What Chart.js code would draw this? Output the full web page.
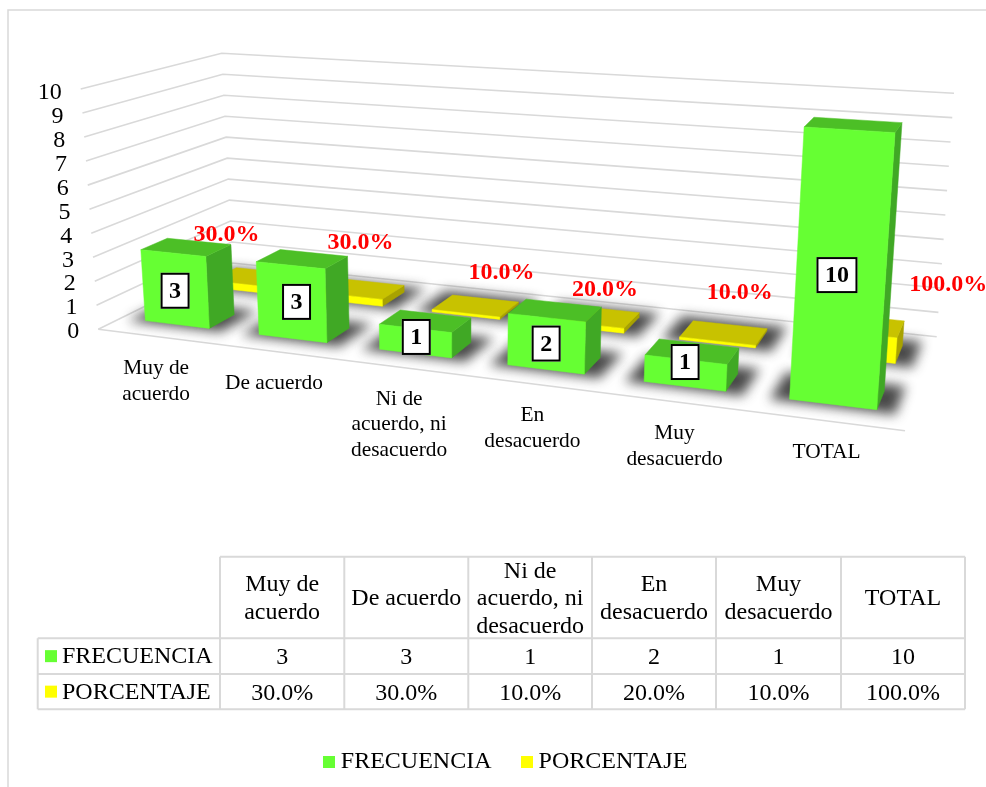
<!DOCTYPE html>
<html><head><meta charset="utf-8">
<style>html,body{margin:0;padding:0;background:#fff}canvas{display:block}</style>
<script src="https://cdn.jsdelivr.net/npm/chart.js@4/dist/chart.umd.js"></script>
</head><body>
<canvas id="c" width="986" height="787"></canvas>
<script>
// ---- data ----
const categories = [['Muy de','acuerdo'],['De acuerdo'],['Ni de','acuerdo, ni','desacuerdo'],['En','desacuerdo'],['Muy','desacuerdo'],['TOTAL']];
const frecuencia = [3,3,1,2,1,10];
const porcentaje = [0.3,0.3,0.1,0.2,0.1,1];
const seriesNames = ['FRECUENCIA','PORCENTAJE'];
const yTicks = {min:0,max:10,step:1};

// ---- layout / style ----
const FONT = '"Liberation Serif","Times New Roman",serif';
const GRID = '#d9d9d9';
const FLOOR_CORNERS = [[98.3,329.3],[905,430.7],[936.7,336.7],[232.7,263]]; // front-left, front-right, back-right, back-left
const TOP_CORNERS   = [[80.7,89],[925,144],[954,93.3],[221.7,53.3]];
const ROW_DEPTH = [[0.155,0.34],[0.64,0.85]];
const FACE = [{front:'#66ff33',top:'#4cbf26',side:'#40a825'},{front:'#ffff00',top:'#c8c200',side:'#a8a200'}];
const FREC_NUDGE = [[0,2],[5,0],[1,-4],[0,0],[0,-11],[-4,8]];
const PCT_NUDGE = [[-27,-42],[-1,-46],[26,-33],[9,-27],[16,-40],[88,-40]];
const TABLE_X = [37.7,220,344.3,468.3,592,716,841,965];
const TABLE_Y = [556.7,638.3,674,709.3];

function homography(p){
  const [a,b,c,d]=p;
  const dx1=b[0]-c[0],dx2=d[0]-c[0],sx=a[0]-b[0]+c[0]-d[0];
  const dy1=b[1]-c[1],dy2=d[1]-c[1],sy=a[1]-b[1]+c[1]-d[1];
  const den=dx1*dy2-dx2*dy1;
  const g=(sx*dy2-dx2*sy)/den,h=(dx1*sy-sx*dy1)/den;
  const A=b[0]-a[0]+g*b[0],B=d[0]-a[0]+h*d[0],D=b[1]-a[1]+g*b[1],E=d[1]-a[1]+h*d[1];
  return (s,t)=>{const w=g*s+h*t+1;return [(A*s+B*t+a[0])/w,(D*s+E*t+a[1])/w];};
}
const floorH=homography(FLOOR_CORNERS),topH=homography(TOP_CORNERS);
const N=categories.length;
function P(u,d,f){
  const a=floorH(u/N,d),b=topH(u/N,d);
  return [a[0]+(b[0]-a[0])*f,a[1]+(b[1]-a[1])*f];
}
function quad(ctx,pts,fill){
  ctx.beginPath();ctx.moveTo(pts[0][0],pts[0][1]);
  for(let i=1;i<pts.length;i++)ctx.lineTo(pts[i][0],pts[i][1]);
  ctx.closePath();
  if(fill){ctx.fillStyle=fill;ctx.fill();ctx.strokeStyle=fill;ctx.lineWidth=0.5;ctx.stroke();}
}
function geom(chart,el){
  const ca=chart.chartArea,y=chart.scales.y;
  const u=(el.x-ca.left)/ca.width*N,w=el.width/ca.width*N;
  const f=(el.base-el.y)/(y.bottom-y.top);
  return {u0:u-w/2,u1:u+w/2,uc:u,f};
}

class Bar3D extends Chart.BarController{
  draw(){
    const chart=this.chart,ctx=chart.ctx,meta=this._cachedMeta;
    const c=FACE[meta.index],[d0,d1]=ROW_DEPTH[meta.index];
    meta.data.forEach(el=>{
      const g=geom(chart,el);
      quad(ctx,[P(g.u1,d0,0),P(g.u1,d1,0),P(g.u1,d1,g.f),P(g.u1,d0,g.f)],c.side);
      quad(ctx,[P(g.u0,d0,g.f),P(g.u1,d0,g.f),P(g.u1,d1,g.f),P(g.u0,d1,g.f)],c.top);
      quad(ctx,[P(g.u0,d0,0),P(g.u1,d0,0),P(g.u1,d0,g.f),P(g.u0,d0,g.f)],c.front);
    });
  }
}
Bar3D.id='bar3d';
Bar3D.defaults=Chart.BarController.defaults;
Bar3D.overrides=Chart.BarController.overrides;
Chart.register(Bar3D);

function swatch(color){
  const k=document.createElement('canvas');k.width=12;k.height=12;
  const x=k.getContext('2d');x.fillStyle=color;x.fillRect(0,0,12,12);return k;
}

const scene={
  id:'scene',
  afterLayout(chart){
    const ys=chart.scales.y,xs=chart.scales.x;
    ys.getLabelItems().forEach(it=>{
      const f=(ys.bottom-it.options.translation[1])/(ys.bottom-ys.top);
      it.options.translation[0]=P(0,0,f)[0]-19;
    });
    ys.left=0;ys.right=100;
    const lh=xs.options.ticks.font.size*1.2;
    xs.getLabelItems().forEach((it,i)=>{
      const p=floorH((i+.5)/N,0);
      it.options.translation[0]=p[0]+1.5;
      it.options.translation[1]=p[1]+32-lh/2;
    });
    xs.top=330;xs.bottom=550;
    const lg=chart.legend;
    lg.left=0;lg.right=1016;lg.top=715;lg.bottom=787;
  },
  beforeDatasetsDraw(chart){
    const ctx=chart.ctx;
    ctx.save();
    // frame
    ctx.strokeStyle=GRID;ctx.lineWidth=1.5;
    ctx.beginPath();ctx.moveTo(8,787);ctx.lineTo(8,10);ctx.lineTo(986,10);ctx.stroke();
    // walls and floor
    ctx.lineWidth=1.6;ctx.lineCap='butt';
    for(let v=yTicks.min;v<=yTicks.max;v+=yTicks.step){
      const f=(v-yTicks.min)/(yTicks.max-yTicks.min);
      const a=P(0,0,f),b=P(0,1,f),c=P(N,1,f);
      ctx.beginPath();ctx.moveTo(a[0],a[1]);ctx.lineTo(b[0],b[1]);ctx.lineTo(c[0],c[1]);ctx.stroke();
    }
    const a=P(0,0,0),b=P(N,0,0);
    ctx.beginPath();ctx.moveTo(a[0],a[1]);ctx.lineTo(b[0],b[1]);ctx.stroke();
    // soft shadows on the floor
    ctx.filter='blur(6px)';
    [1,0].forEach(k=>{
      const [d0,d1]=ROW_DEPTH[k];
      chart.getDatasetMeta(k).data.forEach(el=>{
        const g=geom(chart,el);
        quad(ctx,[P(g.u0-.12,d0-.02,0),P(g.u1+.12,d0-.02,0),P(g.u1+.12,d1+.07,0),P(g.u0-.12,d1+.07,0)],'#4a4a4a');
      });
    });
    ctx.filter='none';
    ctx.restore();
  },
  afterDatasetsDraw(chart){
    const ctx=chart.ctx;
    ctx.save();
    ctx.textAlign='center';ctx.textBaseline='middle';
    // percentage labels
    ctx.font='bold 24px '+FONT;ctx.fillStyle='#ff0000';
    const [pd0,pd1]=ROW_DEPTH[1];
    chart.getDatasetMeta(1).data.forEach((el,i)=>{
      const g=geom(chart,el),p=P(g.uc,(pd0+pd1)/2,g.f);
      ctx.fillText((porcentaje[i]*100).toFixed(1)+'%',p[0]+PCT_NUDGE[i][0],p[1]+PCT_NUDGE[i][1]);
    });
    // frequency labels
    const [fd0]=ROW_DEPTH[0];
    chart.getDatasetMeta(0).data.forEach((el,i)=>{
      const g=geom(chart,el);
      const a=P(g.uc,fd0,0),b=P(g.uc,fd0,g.f);
      const cx=(a[0]+b[0])/2+FREC_NUDGE[i][0],cy=(a[1]+b[1])/2+FREC_NUDGE[i][1];
      const t=String(frecuencia[i]),w=ctx.measureText(t).width+17,h=36;
      ctx.fillStyle='#fff';ctx.fillRect(cx-w/2,cy-h/2,w,h);
      ctx.strokeStyle='#000';ctx.lineWidth=2;ctx.strokeRect(cx-w/2+1,cy-h/2+1,w-2,h-2);
      ctx.fillStyle='#000';ctx.fillText(t,cx,cy+1);
    });
    ctx.restore();
  },
  afterDraw(chart){
    const ctx=chart.ctx,X=TABLE_X,Y=TABLE_Y;
    ctx.save();
    ctx.strokeStyle=GRID;ctx.lineWidth=2;
    ctx.beginPath();
    ctx.moveTo(X[1],Y[0]);ctx.lineTo(X[7],Y[0]);
    for(let i=1;i<Y.length;i++){ctx.moveTo(X[0],Y[i]);ctx.lineTo(X[7],Y[i]);}
    ctx.moveTo(X[0],Y[1]);ctx.lineTo(X[0],Y[3]);
    for(let i=1;i<X.length;i++){ctx.moveTo(X[i],Y[0]);ctx.lineTo(X[i],Y[3]);}
    ctx.stroke();
    ctx.font='24px '+FONT;ctx.fillStyle='#000';ctx.textBaseline='middle';ctx.textAlign='center';
    categories.forEach((lines,i)=>{
      const cx=(X[i+1]+X[i+2])/2,cy=(Y[0]+Y[1])/2+1.5;
      lines.forEach((l,j)=>ctx.fillText(l,cx,cy+(j-(lines.length-1)/2)*27.6));
      ctx.fillText(String(frecuencia[i]),cx,(Y[1]+Y[2])/2+2);
      ctx.fillText((porcentaje[i]*100).toFixed(1)+'%',cx,(Y[2]+Y[3])/2+2);
    });
    ctx.textAlign='left';
    seriesNames.forEach((n,k)=>{
      const cy=(Y[k+1]+Y[k+2])/2;
      ctx.fillStyle=FACE[k].front;ctx.fillRect(45,cy-6,12,12);
      ctx.fillStyle='#000';ctx.fillText(n,62,cy+1);
    });
    ctx.restore();
  }
};

new Chart(document.getElementById('c'),{
  type:'bar3d',
  data:{labels:categories,datasets:[
    {label:seriesNames[0],data:frecuencia,backgroundColor:FACE[0].front,clip:false,grouped:false,barPercentage:.57,categoryPercentage:1},
    {label:seriesNames[1],data:porcentaje,backgroundColor:FACE[1].front,clip:false,grouped:false,barPercentage:.57,categoryPercentage:1}
  ]},
  plugins:[scene],
  options:{
    responsive:false,animation:false,
    layout:{padding:{top:93,bottom:386,right:30}},
    plugins:{
      tooltip:{enabled:false},
      legend:{position:'bottom',labels:{
        usePointStyle:true,boxHeight:12,pointStyleWidth:.1,padding:35,color:'#000',
        font:{family:FONT,size:24},
        generateLabels(chart){
          return Chart.defaults.plugins.legend.labels.generateLabels(chart).map((it,i)=>{it.pointStyle=swatch(FACE[i].front);it.lineWidth=0;return it;});
        }
      }}
    },
    scales:{
      x:{grid:{display:false},border:{display:false},
         ticks:{color:'#000',font:{family:FONT,size:21.4},autoSkip:false,maxRotation:0,minRotation:0},
         afterFit(s){s.height=0;}},
      y:{min:yTicks.min,max:yTicks.max,grid:{display:false},border:{display:false},
         ticks:{stepSize:yTicks.step,autoSkip:false,color:'#000',font:{family:FONT,size:24}}}
    }
  }
});
</script>
</body></html>
